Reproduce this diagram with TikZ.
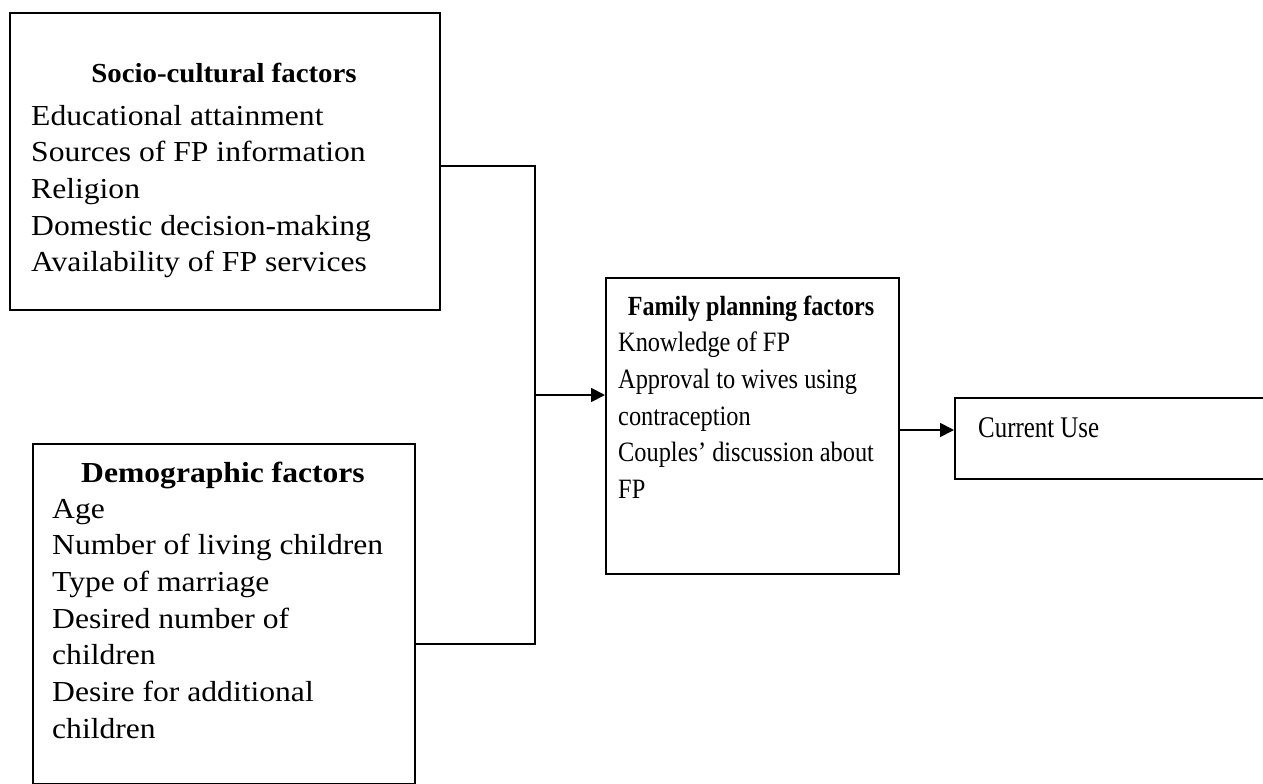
\documentclass[tikz,border=0pt]{standalone}
\usepackage{fontspec}
\setmainfont{Liberation Serif}
\newfontfamily\wideserif[FakeStretch=1.09]{Liberation Serif}
\newfontfamily\titleAserif[FakeStretch=1.05]{Liberation Serif}
\newfontfamily\narrowserif[FakeStretch=0.87]{Liberation Serif}
\newfontfamily\curserif[FakeStretch=0.83]{Liberation Serif}
\usetikzlibrary{arrows.meta}
\tikzset{
  box/.style={draw, line width=1.8pt, inner sep=0pt, anchor=north west},
  txt/.style={inner sep=0pt, align=left, anchor=base west},
  ttl/.style={inner sep=0pt, anchor=base},
  link/.style={line width=1.8pt},
  arr/.style={line width=1.8pt, -{Triangle[length=14pt,width=14pt]}}
}
\begin{document}
\begin{tikzpicture}[x=1pt,y=-1pt]
\useasboundingbox (0,0) rectangle (1263,784);
\clip (0,0) rectangle (1263,784);
\fill[white] (0,0) rectangle (1263,784);
% boxes
\node[box, minimum width=430pt, minimum height=297pt] (b1) at (9,12) {};
\node[box, minimum width=382pt, minimum height=340pt] (b2) at (32,443) {};
\node[box, minimum width=293pt, minimum height=296pt] (b3) at (605,277) {};
\node[box, minimum width=330pt, minimum height=81pt] (b4) at (954,397) {};
% texts (multi-line nodes: base anchor = last line)
\node[ttl, font={\titleAserif\bfseries\fontsize{27.5}{36.7}\selectfont}] (t1) at (224,82) {Socio-cultural factors};
\node[txt, font={\wideserif\fontsize{29}{36.7}\selectfont}] (l1) at (31,271.8) {Educational attainment\\Sources of FP information\\Religion\\Domestic decision-making\\Availability of FP services};
\node[ttl, font={\wideserif\bfseries\fontsize{29}{36.7}\selectfont}] (t2) at (223,482.7) {Demographic factors};
\node[txt, font={\wideserif\fontsize{29}{36.7}\selectfont}] (l2) at (52,738.2) {Age\\Number of living children\\Type of marriage\\Desired number of\\children\\Desire for additional\\children};
\node[ttl, font={\narrowserif\bfseries\fontsize{27.7}{36.7}\selectfont}] (t3) at (751,315) {Family planning factors};
\node[txt, font={\narrowserif\fontsize{28}{36.7}\selectfont}] (l3) at (618,498.5) {Knowledge of FP\\Approval to wives using\\contraception\\Couples’ discussion about\\FP};
\node[txt, font={\curserif\fontsize{30}{36.7}\selectfont}] (t4) at (978,437) {Current Use};
% connectors
\coordinate (j1) at (535,166);
\coordinate (j2) at (535,644);
\coordinate (jm) at (535,395);
\coordinate (k) at (926,430);
\draw[link] (b1.east |- j1) -- (j1) -- (j2) -- (b2.east |- j2);
\draw[arr] (jm) -- (b3.west |- jm);
\draw[arr] (b3.east |- k) -- (b4.west |- k);
\end{tikzpicture}
\end{document}
